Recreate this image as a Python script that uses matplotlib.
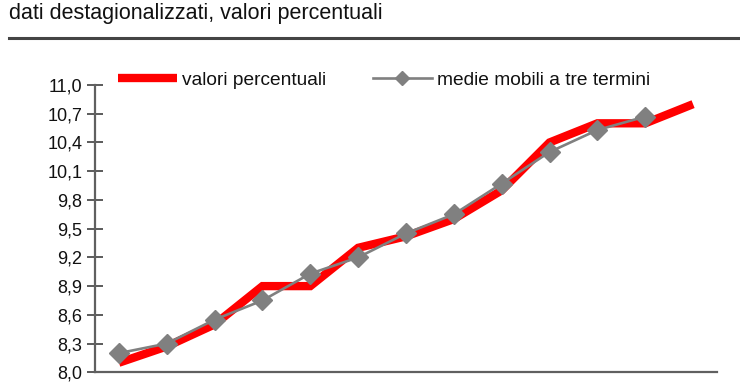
import matplotlib
matplotlib.use("Agg")
import matplotlib.pyplot as plt
from matplotlib.lines import Line2D

# Data
periods = list(range(13))
valori = [8.1, 8.27, 8.5, 8.9, 8.9, 9.3, 9.42, 9.6, 9.9, 10.4, 10.6, 10.6, 10.8]
medie = [8.2, 8.3, 8.55, 8.75, 9.03, 9.2, 9.45, 9.65, 9.97, 10.3, 10.53, 10.67]
yticks = [8.0, 8.3, 8.6, 8.9, 9.2, 9.5, 9.8, 10.1, 10.4, 10.7, 11.0]
ytick_labels = ["8,0", "8,3", "8,6", "8,9", "9,2", "9,5", "9,8", "10,1", "10,4", "10,7", "11,0"]
title = "dati destagionalizzati, valori percentuali"
label_red = "valori percentuali"
label_gray = "medie mobili a tre termini"

plt.rcParams['font.family'] = ['Liberation Sans', 'DejaVu Sans']

fig = plt.figure(figsize=(7.4, 3.89), dpi=100)
ax = fig.add_axes([95/740, 16.7/389, 622/740, 287.3/389])

ax.plot(periods, valori, color='#ff0000', lw=6, solid_capstyle='butt',
        solid_joinstyle='miter', label=label_red, zorder=2)
ax.plot(periods[:len(medie)], medie, color='#808080', lw=1.9, marker='D',
        markersize=10.5, markeredgecolor='#808080', label=label_gray, zorder=3)

ax.set_xlim(-0.5, 12.5)
ax.set_ylim(8.0, 11.0)
ax.set_yticks(yticks)
ax.set_yticklabels(ytick_labels)
ax.set_xticks([])

for s in ['top', 'right']:
    ax.spines[s].set_visible(False)
for s in ['left', 'bottom']:
    ax.spines[s].set_color('#606060')
    ax.spines[s].set_linewidth(1.6)
ax.tick_params(axis='y', direction='inout', length=12, width=1.2, color='#404040',
               labelsize=13, pad=3, labelcolor='#111111')

leg = ax.legend(loc='center left', bbox_to_anchor=(0.037, 1.017), ncol=2, frameon=False,
                fontsize=13.8, handlelength=3.1, handletextpad=0.26, columnspacing=2.4,
                borderaxespad=0, borderpad=0)
leg.legend_handles[1].set_markersize(7.5)
for t in leg.get_texts():
    t.set_color('#111111')

fig.text(9/740, 1 - 13/389, title, fontsize=15.5, va='center', ha='left', color='#111111')
fig.add_artist(Line2D([9/740, 738/740], [1 - 38/389] * 2, color='#444444', lw=2.2))

fig.savefig('out.png', dpi=100)
